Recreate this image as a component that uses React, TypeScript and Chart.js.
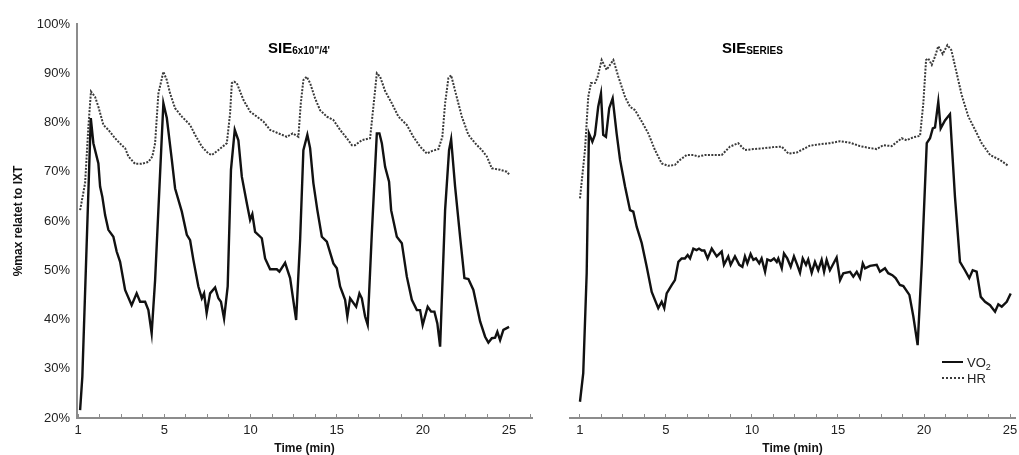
import React, { useEffect, useRef } from 'react';
import { Chart, registerables } from 'chart.js';

Chart.register(...registerables);

// ---------- data (time in minutes, values in % of max relative to IXT) ----------
const leftVo2Time = [0.12, 0.25, 0.74, 0.89, 1.18, 1.28, 1.41, 1.57, 1.76, 2.05, 2.24, 2.44, 2.73, 3.11, 3.4, 3.6, 3.89, 4.08, 4.27, 4.47, 4.95, 5.15, 5.44, 5.63, 6.02, 6.31, 6.5, 6.69, 6.98, 7.18, 7.31, 7.46, 7.66, 7.95, 8.14, 8.29, 8.47, 8.68, 8.87, 9.09, 9.3, 9.5, 9.79, 9.98, 10.11, 10.27, 10.66, 10.85, 11.14, 11.53, 11.68, 12.01, 12.3, 12.65, 12.88, 13.07, 13.3, 13.46, 13.65, 13.88, 14.14, 14.43, 14.81, 15.01, 15.2, 15.49, 15.62, 15.78, 16.13, 16.32, 16.46, 16.65, 16.8, 17.04, 17.33, 17.48, 17.62, 17.81, 18.04, 18.16, 18.49, 18.78, 19.07, 19.36, 19.65, 19.84, 19.99, 20.28, 20.48, 20.67, 20.84, 21.0, 21.29, 21.52, 21.64, 21.87, 22.16, 22.41, 22.64, 22.93, 23.32, 23.61, 23.8, 24.0, 24.19, 24.32, 24.48, 24.67, 25.0];
const leftVo2 = [21.6, 28.4, 80.9, 75.8, 71.7, 67.0, 64.9, 61.2, 58.2, 56.8, 53.8, 51.7, 46.0, 42.9, 45.3, 43.6, 43.6, 41.9, 37.2, 48.0, 83.9, 80.9, 72.4, 66.6, 61.9, 57.2, 56.1, 52.1, 46.7, 44.3, 45.3, 41.3, 45.3, 46.5, 44.3, 43.6, 40.2, 46.7, 70.4, 78.5, 76.4, 69.0, 63.6, 60.2, 61.4, 57.8, 56.5, 52.4, 50.2, 50.2, 49.7, 51.5, 48.4, 39.9, 56.1, 74.4, 77.5, 74.8, 67.7, 62.2, 56.8, 55.8, 51.4, 50.4, 46.7, 44.0, 40.6, 44.3, 42.6, 45.3, 44.3, 40.6, 38.9, 57.5, 77.8, 77.8, 75.8, 71.0, 68.0, 62.2, 56.8, 55.5, 48.7, 44.0, 41.9, 41.9, 38.9, 42.6, 41.6, 41.6, 39.2, 34.5, 62.2, 74.4, 76.6, 67.0, 56.8, 48.4, 48.2, 46.0, 39.6, 36.5, 35.3, 36.2, 36.3, 37.5, 35.8, 37.9, 38.5];

const leftHrTime = [0.12, 0.41, 0.6, 0.75, 0.99, 1.18, 1.47, 1.76, 2.15, 2.53, 2.73, 2.92, 3.31, 3.69, 4.08, 4.31, 4.47, 4.66, 4.95, 5.15, 5.34, 5.63, 6.02, 6.5, 6.79, 7.18, 7.56, 7.76, 8.14, 8.63, 8.82, 8.92, 9.05, 9.21, 9.59, 9.98, 10.37, 10.75, 11.14, 11.62, 12.11, 12.45, 12.78, 12.92, 13.07, 13.26, 13.46, 13.75, 14.04, 14.43, 14.81, 15.2, 15.59, 15.88, 16.07, 16.46, 16.94, 17.13, 17.33, 17.52, 17.81, 18.2, 18.58, 19.07, 19.45, 19.84, 20.23, 20.52, 20.9, 21.13, 21.29, 21.48, 21.64, 21.91, 22.26, 22.64, 23.03, 23.42, 23.71, 24.0, 24.48, 24.87, 25.0];
const leftHr = [62.2, 67.7, 79.1, 86.3, 85.2, 83.2, 79.5, 78.5, 76.8, 75.4, 74.8, 73.1, 71.6, 71.6, 72.0, 73.1, 75.8, 85.9, 90.3, 88.6, 85.9, 82.9, 81.2, 79.5, 77.5, 75.1, 73.7, 73.4, 74.4, 75.8, 81.9, 88.0, 88.3, 88.0, 84.6, 82.2, 81.2, 80.2, 78.5, 77.8, 77.1, 77.8, 77.1, 83.9, 88.6, 89.3, 88.0, 84.9, 82.5, 81.2, 80.5, 78.5, 76.8, 75.4, 75.4, 76.4, 76.8, 83.2, 90.0, 89.3, 86.4, 83.9, 81.2, 79.5, 77.1, 75.1, 73.7, 74.2, 74.6, 77.1, 83.9, 89.0, 89.6, 85.9, 81.2, 77.5, 75.8, 74.4, 73.1, 70.7, 70.4, 70.0, 69.5];

const rightVo2Time = [0.0, 0.19, 0.39, 0.52, 0.72, 0.87, 1.06, 1.22, 1.35, 1.51, 1.7, 1.9, 2.13, 2.33, 2.62, 2.91, 3.1, 3.3, 3.59, 3.88, 4.17, 4.55, 4.75, 4.9, 5.04, 5.33, 5.52, 5.72, 5.91, 6.1, 6.26, 6.4, 6.59, 6.78, 6.92, 7.08, 7.23, 7.42, 7.66, 7.95, 8.24, 8.37, 8.62, 8.76, 9.01, 9.26, 9.44, 9.59, 9.73, 9.92, 10.08, 10.23, 10.42, 10.56, 10.76, 10.89, 11.09, 11.28, 11.44, 11.53, 11.73, 11.86, 12.05, 12.25, 12.44, 12.63, 12.79, 12.95, 13.14, 13.27, 13.47, 13.66, 13.85, 14.05, 14.19, 14.34, 14.53, 14.92, 15.12, 15.31, 15.7, 15.89, 16.09, 16.28, 16.44, 16.57, 16.86, 17.25, 17.44, 17.73, 17.92, 18.16, 18.35, 18.6, 18.8, 19.15, 19.38, 19.63, 19.87, 20.16, 20.35, 20.51, 20.64, 20.83, 20.97, 21.22, 21.51, 21.8, 22.09, 22.38, 22.63, 22.83, 23.06, 23.3, 23.55, 23.84, 24.13, 24.32, 24.52, 24.81, 25.04];
const rightVo2 = [23.3, 29.1, 49.4, 77.8, 76.1, 77.5, 83.2, 85.9, 77.5, 77.1, 82.9, 84.9, 77.8, 72.4, 67.0, 62.2, 61.9, 58.8, 55.5, 50.7, 45.6, 42.3, 43.6, 42.3, 45.3, 47.0, 48.0, 51.7, 52.4, 52.4, 53.1, 52.4, 54.4, 54.1, 54.4, 54.0, 54.0, 52.4, 54.4, 52.8, 53.8, 51.1, 52.8, 51.1, 52.8, 51.1, 50.7, 52.8, 51.4, 53.3, 52.1, 52.4, 51.4, 52.4, 49.7, 52.2, 51.9, 52.4, 51.7, 52.4, 50.4, 53.4, 52.4, 50.7, 52.8, 51.1, 49.5, 52.4, 51.1, 52.2, 49.5, 51.7, 50.0, 52.1, 49.7, 52.1, 50.0, 52.6, 48.0, 49.4, 49.7, 48.7, 49.7, 48.4, 51.4, 50.4, 50.9, 51.1, 49.7, 50.4, 49.4, 49.0, 48.4, 47.0, 46.8, 45.0, 40.6, 34.8, 51.4, 75.8, 76.8, 78.8, 79.0, 84.2, 78.8, 80.4, 81.7, 64.9, 51.7, 50.0, 48.4, 50.0, 49.7, 44.6, 43.6, 42.9, 41.6, 43.1, 42.6, 43.6, 45.3];

const rightHrTime = [0.0, 0.29, 0.48, 0.64, 0.87, 1.03, 1.26, 1.55, 1.94, 2.23, 2.62, 2.91, 3.2, 3.59, 3.97, 4.36, 4.75, 5.13, 5.52, 5.81, 6.2, 6.59, 6.88, 7.27, 7.66, 8.24, 8.72, 9.2, 9.59, 10.08, 10.76, 11.24, 11.73, 12.11, 12.6, 12.98, 13.37, 13.95, 14.53, 15.12, 15.7, 16.28, 16.86, 17.25, 17.63, 18.12, 18.7, 18.99, 19.38, 19.77, 19.96, 20.12, 20.25, 20.45, 20.64, 20.83, 21.09, 21.36, 21.59, 21.9, 22.19, 22.58, 22.97, 23.35, 23.84, 24.42, 24.9];
const rightHr = [64.6, 74.4, 85.2, 88.0, 88.0, 89.3, 92.7, 90.7, 92.7, 89.3, 85.2, 83.2, 82.5, 80.2, 77.8, 74.4, 71.7, 71.2, 71.4, 72.4, 73.4, 73.4, 73.1, 73.4, 73.4, 73.4, 75.1, 75.8, 74.4, 74.6, 74.8, 75.0, 75.1, 73.7, 73.9, 74.6, 75.3, 75.6, 75.8, 76.2, 75.9, 75.2, 74.8, 74.6, 75.4, 75.2, 76.8, 76.4, 77.0, 77.3, 83.9, 92.7, 93.0, 91.7, 93.4, 95.5, 93.9, 95.7, 94.7, 90.0, 85.6, 81.2, 78.5, 75.8, 73.4, 72.4, 71.2];

const xTickPositions = [0, 5, 10, 15, 20, 25];
const xTickLabels = ['1', '5', '10', '15', '20', '25'];
const minorTickStep = 1.25;
const yMin = 20;
const yMax = 100;
const yStep = 10;

const seriesNames = ['VO\u2082', 'HR'];
const panelTitles = ['SIE', 'SIE'];
const panelSubtitles = ['6x10"/4\'', 'SERIES'];
const xTitle = 'Time (min)';
const yTitle = '%max relatet to IXT';

// ---------- helpers ----------
const FONT = '"Liberation Sans", Arial, sans-serif';
const AXIS_COLOR = '#8c8c8c';
const TEXT_COLOR = '#222';

function pts(xs: number[], ys: number[]) {
  return xs.map((x, i) => ({ x, y: ys[i] }));
}

function makeConfig(p: {
  vo2: { x: number; y: number }[];
  hr: { x: number; y: number }[];
  xMin: number;
  xMax: number;
  showY: boolean;
  padding: any;
}): any {
  const tickValues: number[] = [];
  for (let v = 0; v <= p.xMax + 1e-6; v += minorTickStep) tickValues.push(Math.round(v * 100) / 100);
  return {
    type: 'line',
    data: {
      datasets: [
        {
          label: seriesNames[0],
          data: p.vo2,
          borderColor: '#111',
          borderWidth: 2.4,
          pointRadius: 0,
          tension: 0,
          fill: false,
        },
        {
          label: seriesNames[1],
          data: p.hr,
          borderColor: '#3a3a3a',
          borderWidth: 2,
          borderDash: [2, 1.4],
          pointRadius: 0,
          tension: 0,
          fill: false,
        },
      ],
    },
    options: {
      animation: false,
      responsive: false,
      maintainAspectRatio: false,
      layout: { padding: p.padding },
      plugins: { legend: { display: false }, tooltip: { enabled: false }, title: { display: false } },
      scales: {
        x: {
          type: 'linear',
          min: p.xMin,
          max: p.xMax,
          afterBuildTicks: (axis: any) => {
            axis.ticks = tickValues.map((v) => ({ value: v }));
          },
          afterFit: (axis: any) => {
            axis.height = 37;
            axis.paddingLeft = 0;
            axis.paddingRight = 0;
          },
          ticks: {
            autoSkip: false,
            maxRotation: 0,
            padding: 9,
            color: TEXT_COLOR,
            font: { family: FONT, size: 13 },
            callback: (v: number) => {
              const i = xTickPositions.indexOf(v);
              return i >= 0 ? xTickLabels[i] : '';
            },
          },
          grid: {
            display: true,
            drawOnChartArea: false,
            drawTicks: true,
            tickLength: -4,
            color: AXIS_COLOR,
            lineWidth: 1,
          },
          border: { display: true, color: AXIS_COLOR, width: 2 },
          title: {
            display: true,
            text: xTitle,
            color: '#111',
            font: { family: FONT, size: 12, weight: 'bold' },
            padding: { top: 0, bottom: -1 },
          },
        },
        y: {
          display: p.showY,
          min: yMin,
          max: yMax,
          afterFit: (axis: any) => {
            if (p.showY) axis.width = 77;
          },
          ticks: {
            stepSize: yStep,
            padding: 7,
            color: TEXT_COLOR,
            font: { family: FONT, size: 13 },
            callback: (v: number) => v + '%',
          },
          grid: { display: false, drawTicks: false },
          border: { display: true, color: AXIS_COLOR, width: 2 },
          title: {
            display: true,
            text: yTitle,
            color: '#111',
            font: { family: FONT, size: 12, weight: 'bold' },
            padding: { top: 11, bottom: 0 },
          },
        },
      },
    },
  };
}

export default function App() {
  const leftRef = useRef<HTMLCanvasElement>(null);
  const rightRef = useRef<HTMLCanvasElement>(null);

  useEffect(() => {
    const c1 = new Chart(
      leftRef.current as HTMLCanvasElement,
      makeConfig({
        vo2: pts(leftVo2Time, leftVo2),
        hr: pts(leftHrTime, leftHr),
        xMin: -0.06,
        xMax: 26.33,
        showY: true,
        padding: { top: 24, left: 0, right: 13, bottom: 0 },
      })
    );
    const c2 = new Chart(
      rightRef.current as HTMLCanvasElement,
      makeConfig({
        vo2: pts(rightVo2Time, rightVo2),
        hr: pts(rightHrTime, rightHr),
        xMin: -0.58,
        xMax: 25.29,
        showY: false,
        padding: { top: 24, left: 25, right: 4, bottom: 0 },
      })
    );
    return () => {
      c1.destroy();
      c2.destroy();
    };
  }, []);

  const titleStyle: React.CSSProperties = {
    position: 'absolute',
    font: `bold 15px ${FONT}`,
    lineHeight: '17px',
    color: '#000',
    whiteSpace: 'nowrap',
  };
  const subStyle: React.CSSProperties = { fontSize: 10, verticalAlign: '-1px' };
  const legendText: React.CSSProperties = {
    position: 'absolute',
    font: `13px ${FONT}`,
    lineHeight: '15px',
    color: TEXT_COLOR,
    whiteSpace: 'nowrap',
  };

  return (
    <div style={{ position: 'fixed', left: 0, top: 0, width: 1019, height: 455, background: '#fff', overflow: 'hidden' }}>
      <canvas ref={leftRef} width={545} height={455} style={{ position: 'absolute', left: 0, top: 0, width: 545, height: 455 }} />
      <canvas ref={rightRef} width={474} height={455} style={{ position: 'absolute', left: 545, top: 0, width: 474, height: 455 }} />

      <div style={{ ...titleStyle, left: 268, top: 39 }}>
        {panelTitles[0]}
        <span style={subStyle}>{panelSubtitles[0]}</span>
      </div>
      <div style={{ ...titleStyle, left: 722, top: 39 }}>
        {panelTitles[1]}
        <span style={subStyle}>{panelSubtitles[1]}</span>
      </div>

      <div style={{ position: 'absolute', left: 942, top: 361, width: 21, borderTop: '2px solid #111' }} />
      <div style={{ ...legendText, left: 967, top: 355 }}>
        VO<span style={{ fontSize: 9, verticalAlign: '-3px' }}>2</span>
      </div>
      <div style={{ position: 'absolute', left: 942, top: 377, width: 22, borderTop: '2px dotted #3a3a3a' }} />
      <div style={{ ...legendText, left: 967, top: 371 }}>{seriesNames[1]}</div>
    </div>
  );
}
